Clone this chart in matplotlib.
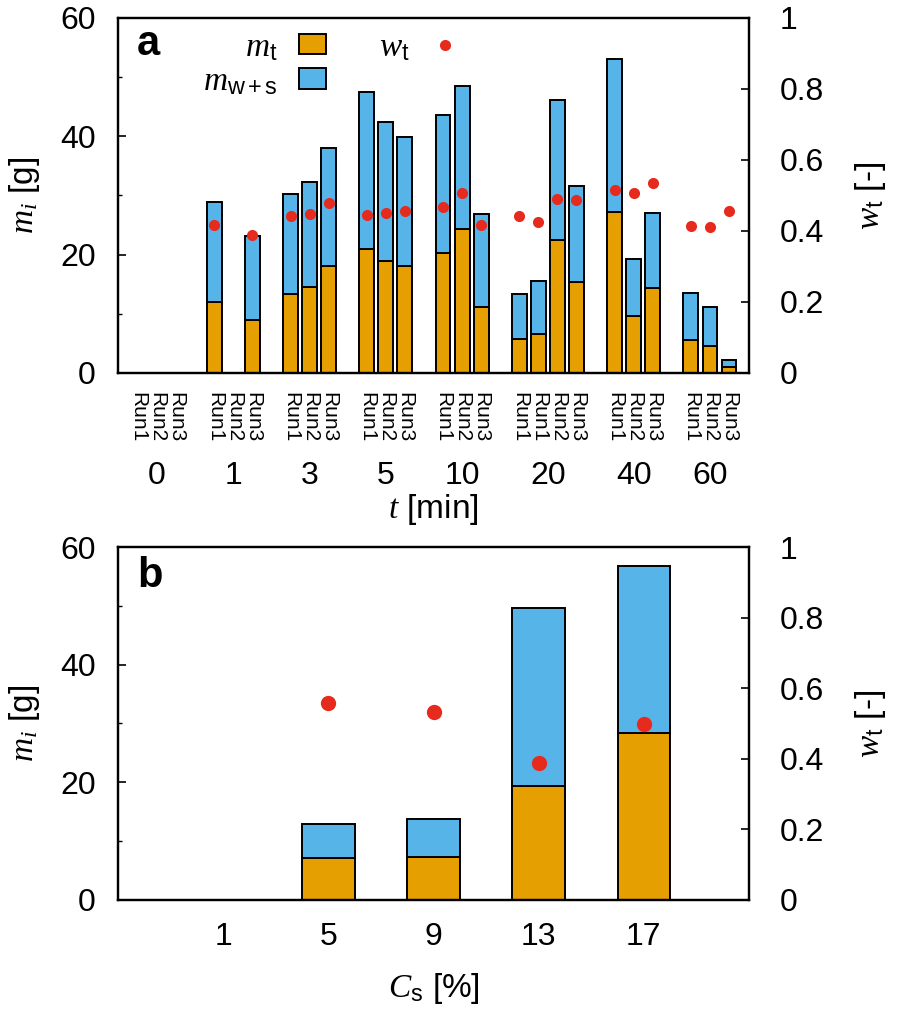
import numpy as np
import matplotlib.pyplot as plt
from matplotlib.patches import Patch
from matplotlib.lines import Line2D
from matplotlib.ticker import MultipleLocator

nan = np.nan

# ---- panel a : masses per run and time ----
times = ["0", "1", "3", "5", "10", "20", "40", "60"]
runs = [["Run1", "Run2", "Run3"],
        ["Run1", "Run2", "Run3"],
        ["Run1", "Run2", "Run3"],
        ["Run1", "Run2", "Run3"],
        ["Run1", "Run2", "Run3"],
        ["Run1", "Run1", "Run2", "Run3"],
        ["Run1", "Run2", "Run3"],
        ["Run1", "Run2", "Run3"]]
m_t_a = [[nan, nan, nan],
         [12.0, nan, 9.0],
         [13.3, 14.5, 18.0],
         [21.0, 19.0, 18.0],
         [20.3, 24.4, 11.2],
         [5.8, 6.6, 22.4, 15.3],
         [27.2, 9.7, 14.4],
         [5.5, 4.5, 1.0]]
m_ws_a = [[nan, nan, nan],
          [16.9, nan, 14.2],
          [17.0, 17.8, 20.0],
          [26.5, 23.4, 21.8],
          [23.3, 24.1, 15.7],
          [7.5, 8.9, 23.7, 16.3],
          [25.9, 9.6, 12.7],
          [8.0, 6.6, 1.2]]
w_t_a = [[nan, nan, nan],
         [0.418, nan, 0.389],
         [0.441, 0.448, 0.478],
         [0.446, 0.451, 0.455],
         [0.468, 0.508, 0.418],
         [0.442, 0.426, 0.490, 0.488],
         [0.515, 0.506, 0.535],
         [0.413, 0.411, 0.457]]

# ---- panel b : masses per solid concentration ----
cs = ["1", "5", "9", "13", "17"]
m_t_b = [nan, 7.1, 7.3, 19.3, 28.3]
m_ws_b = [nan, 5.8, 6.5, 30.4, 28.5]
w_t_b = [nan, 0.558, 0.532, 0.388, 0.498]

orange = "#E69F00"
blue = "#56B4E9"
red = "#E62A1E"

plt.rcParams['font.family'] = ['Liberation Sans', 'DejaVu Sans']
plt.rcParams['mathtext.fontset'] = 'custom'
plt.rcParams['mathtext.it'] = 'Liberation Serif:italic'
plt.rcParams['mathtext.rm'] = 'Liberation Sans'
plt.rcParams['mathtext.sf'] = 'Liberation Sans'
plt.rcParams['mathtext.bf'] = 'Liberation Sans:bold'

fig = plt.figure(figsize=(8.98, 10.16), dpi=100)
ax_a = fig.add_axes([0.1314, 0.6329, 0.7027, 0.3494])
ax_b = fig.add_axes([0.1314, 0.1142, 0.7027, 0.3474])

# slot positions: one empty slot between time groups
x_a = []
labels_a = []
centers = []
pos = 0
for g in range(len(times)):
    n = len(runs[g])
    x_a.extend(range(pos, pos + n))
    labels_a.extend(runs[g])
    centers.append(pos + (n - 1) / 2)
    pos += n + 1
x_a = np.array(x_a)
mt = np.concatenate(m_t_a)
mws = np.concatenate(m_ws_a)
wt = np.concatenate(w_t_a)

bar_kw = dict(edgecolor="black", linewidth=1.4)
ax_a.bar(x_a, mt, width=0.78, color=orange, **bar_kw)
ax_a.bar(x_a, mws, width=0.78, bottom=mt, color=blue, **bar_kw)
tw_a = ax_a.twinx()
tw_a.plot(x_a, wt, 'o', color=red, ms=8, mec='none')

x_b = np.arange(len(cs))
ax_b.bar(x_b, m_t_b, width=0.5, color=orange, **bar_kw)
ax_b.bar(x_b, m_ws_b, width=0.5, bottom=m_t_b, color=blue, **bar_kw)
tw_b = ax_b.twinx()
tw_b.plot(x_b, w_t_b, 'o', color=red, ms=11, mec='none')

for ax, tw in [(ax_a, tw_a), (ax_b, tw_b)]:
    ax.set_ylim(0, 60)
    tw.set_ylim(0, 1)
    ax.yaxis.set_major_locator(MultipleLocator(20))
    ax.yaxis.set_minor_locator(MultipleLocator(10))
    tw.set_yticks([0, 0.2, 0.4, 0.6, 0.8, 1], ["0", "0.2", "0.4", "0.6", "0.8", "1"])
    ax.tick_params(axis='y', which='major', direction='in', length=6, width=1.2, labelsize=23, pad=16)
    ax.tick_params(axis='y', which='minor', direction='in', length=3, width=1.0)
    tw.tick_params(axis='y', direction='in', length=6, width=1.2, labelsize=23, pad=22)
    ax.tick_params(axis='x', length=0)
    for sp in list(ax.spines.values()) + list(tw.spines.values()):
        sp.set_linewidth(1.6)
    ax.set_ylabel("$m_i$ [g]", fontsize=24)
    ax.yaxis.set_label_coords(-0.12, 0.5)
    tw.set_ylabel("$w_{\\mathrm{t}}$ [-]", fontsize=24)
    tw.yaxis.set_label_coords(1.165, 0.5)

# panel a x axis
ax_a.set_xlim(-1.05, 32.05)
ax_a.set_xticks(x_a, labels_a, rotation=270, fontsize=15, va='top', ha='center')
ax_a.tick_params(axis='x', pad=14)
for c, t in zip(centers, times):
    ax_a.text(c, -0.29, t, transform=ax_a.get_xaxis_transform(), ha='center', va='center', fontsize=23)
ax_a.set_xlabel("$t$ [min]", fontsize=24)
ax_a.xaxis.set_label_coords(0.5, -0.335)

# panel b x axis
ax_b.set_xlim(-1, 5)
ax_b.set_xticks(x_b, cs)
ax_b.tick_params(axis='x', labelsize=23, pad=16)
ax_b.set_xlabel("$C_{\\mathrm{s}}$ [%]", fontsize=24)
ax_b.xaxis.set_label_coords(0.5, -0.2)

# panel letters
ax_a.text(0.030, 0.895, "a", transform=ax_a.transAxes, fontsize=30, fontweight='bold', ha='left', va='baseline')
ax_b.text(0.030, 0.887, "b", transform=ax_b.transAxes, fontsize=30, fontweight='bold', ha='left', va='baseline')

# legend
handles = [Patch(facecolor=orange, edgecolor='black', linewidth=1.4),
           Patch(facecolor=blue, edgecolor='black', linewidth=1.4),
           Line2D([], [], marker='o', ls='', color=red, ms=8, mec='none')]
names = ["$m_{\\mathrm{t}}$", "$m_{\\mathrm{w+s}}$", "$w_{\\mathrm{t}}$"]
tw_a.legend(handles, names, ncol=2, markerfirst=False, frameon=False, fontsize=24,
            loc='upper left', bbox_to_anchor=(0.103, 1.017), borderpad=0.1,
            handlelength=0.8, handleheight=0.55, handletextpad=0.65,
            columnspacing=1.6, labelspacing=0.1)

fig.savefig("out.png", dpi=100)
